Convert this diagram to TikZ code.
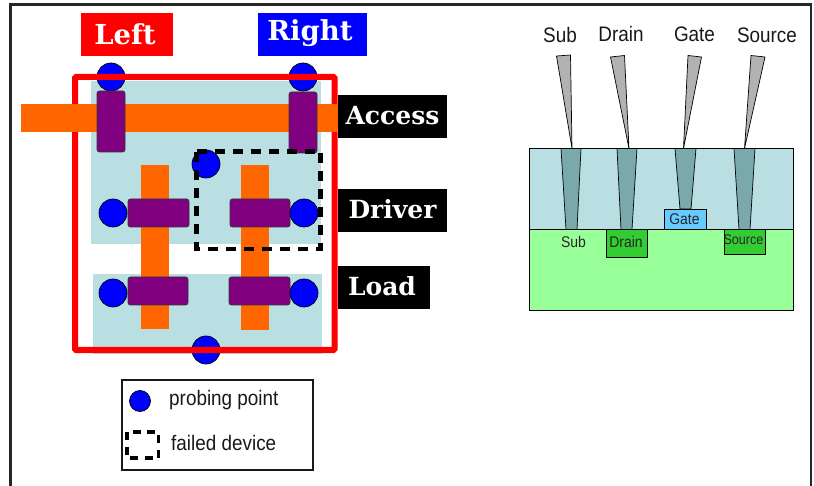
\documentclass[tikz,border=0pt]{standalone}
\usepackage{fontspec}
\setmainfont{Latin Modern Roman}
\newfontfamily\narrowsans[FakeStretch=0.9]{Liberation Sans}
\newfontfamily\heavyserif{DejaVu Serif}
\definecolor{lblue}{HTML}{B9DFE2}
\definecolor{lgreen}{HTML}{99FF99}
\definecolor{dgreen}{HTML}{33CC33}
\definecolor{gateblue}{HTML}{66CCFF}
\definecolor{teal2}{HTML}{7AA9AB}
\definecolor{probegray}{HTML}{B2B2B2}
\definecolor{poly}{HTML}{FF6600}
\definecolor{metal}{HTML}{800080}
\definecolor{probe}{HTML}{0000FF}
\tikzset{
  x=1pt,y=-1pt,
  tag/.style={font=\heavyserif\bfseries\fontsize{25}{28}\selectfont,text=white,inner sep=0pt},
  bigtag/.style={font=\heavyserif\bfseries\fontsize{27.5}{30}\selectfont,text=white,inner sep=0pt},
  sans/.style={font=\narrowsans\fontsize{21}{23}\selectfont,inner sep=0pt,text=black!90},
  sanssmall/.style={font=\narrowsans\fontsize{15.5}{18}\selectfont,inner sep=0pt,text=black!85},
  gatebar/.style={fill=metal,draw=black!80,line width=0.8pt,rounded corners=2.5pt},
  pad/.style={circle,fill=probe,draw=black,line width=0.7pt,minimum size=28pt,inner sep=0pt},
  failbox/.style={draw=black,line width=4.2pt,dash pattern=on 10pt off 8pt},
  wall/.style={draw=black,line width=0.9pt},
  taper/.style={fill=teal2,draw=black,line width=0.7pt},
  needle/.style={fill=probegray,draw=black,line width=0.7pt,line join=round},
}
\begin{document}
\begin{tikzpicture}
\useasboundingbox (0,0) rectangle (814,486);
\fill[white] (0,0) rectangle (814,486);
% frame
\draw[line width=2.2pt,black!85] (10.5,486) -- (10.5,4.5) -- (811,4.5) -- (811,486);
% title tags
\fill[red] (81,13) rectangle (173,56);
\node[bigtag] (left) at (125,34) {Left};
\fill[probe] (258,13) rectangle (367,56);
\node[bigtag] (right) at (310,33) {Right};
% active areas
\fill[lblue] (91,81) rectangle (321,244);
\fill[lblue] (93,274) rectangle (322,354);
% probing points under the red outline
\node[pad] (pa) at (111,77) {};
\node[pad] (pb) at (303,77) {};
\node[pad] (pg) at (206,350) {};
% red outline
\draw[red,line width=6pt,rounded corners=1pt] (75,77) rectangle (334.5,350);
% poly
\fill[poly] (21,104) rectangle (338,132);
\fill[poly] (141,165) rectangle (169,329);
\fill[poly] (241,165) rectangle (269,330);
% metal
\draw[gatebar] (97,91) rectangle (125,152);
\draw[gatebar] (289,92) rectangle (317,153);
\draw[gatebar] (128,199) rectangle (189,227);
\draw[gatebar] (230,199) rectangle (290,227);
\draw[gatebar] (128,277) rectangle (188,305);
\draw[gatebar] (229,277) rectangle (290,305);
% other pads
\node[pad] (pc) at (206,164) {};
\node[pad] (pd) at (113,213) {};
\node[pad] (pe) at (304,213) {};
\node[pad] (pf) at (113,293) {};
\node[pad] (ph) at (304,293) {};
% failed device
\draw[failbox] (196.5,151.5) -- (320.5,151.5) -- (320.5,249) -- (196.5,249) -- cycle;
% row tags
\fill[black] (338,95) rectangle (447,138);
\node[tag] (access) at (392.5,116) {Access};
\fill[black] (338,189) rectangle (447,232);
\node[tag] (driver) at (392.5,209) {Driver};
\fill[black] (338,266) rectangle (430,309);
\node[tag] (load) at (382,286) {Load};
% legend
\draw[line width=1.8pt,black!90] (122,380) rectangle (313,470);
\node[pad,minimum size=21pt] (legpad) at (140,401) {};
\draw[line width=3.4pt,dash pattern=on 8pt off 6.5pt] (127,432) rectangle (158.5,458);
\node[sans,anchor=west] (t1) at (169,400) {probing point};
\node[sans,anchor=west] (t2) at (171,443) {failed device};
% cross section
\draw[wall,fill=lblue] (529.5,148.5) rectangle (793,229.5);
\draw[wall,fill=lgreen] (529.5,229.5) rectangle (793,310);
\draw[wall,fill=gateblue] (664.5,209) rectangle (706.5,229.5);
\draw[wall,fill=dgreen] (606,229.5) rectangle (647.5,257.5);
\draw[wall,fill=dgreen] (724,229.5) rectangle (765,254);
\draw[taper] (561,148.5) -- (581,148.5) -- (577,229.5) -- (566,229.5) -- cycle;
\draw[taper] (617,148.5) -- (637,148.5) -- (632,229.5) -- (621,229.5) -- cycle;
\draw[taper] (675,148.5) -- (696,148.5) -- (691,209) -- (680,209) -- cycle;
\draw[taper] (734,148.5) -- (755,148.5) -- (750,229.5) -- (739,229.5) -- cycle;
\draw[needle] (556.5,56) -- (570.5,55) -- (572,148.5) -- cycle;
\draw[needle] (610.5,57) -- (624.5,55.5) -- (629,148.5) -- cycle;
\draw[needle] (688,55.5) -- (701.5,57) -- (683.5,148.5) -- cycle;
\draw[needle] (751,55.5) -- (765,57) -- (744.5,148.5) -- cycle;
\node[sans] (s1) at (560,35) {Sub};
\node[sans] (s2) at (621,34) {Drain};
\node[sans] (s3) at (694.5,34) {Gate};
\node[sans] (s4) at (767,35) {Source};
\node[sanssmall] (i1) at (573.5,242) {Sub};
\node[sanssmall] (i2) at (626,242) {Drain};
\node[sanssmall] (i3) at (684.5,219) {Gate};
\node[sanssmall,font=\narrowsans\fontsize{14}{16}\selectfont] (i4) at (743.5,240) {Source};
\end{tikzpicture}
\end{document}
